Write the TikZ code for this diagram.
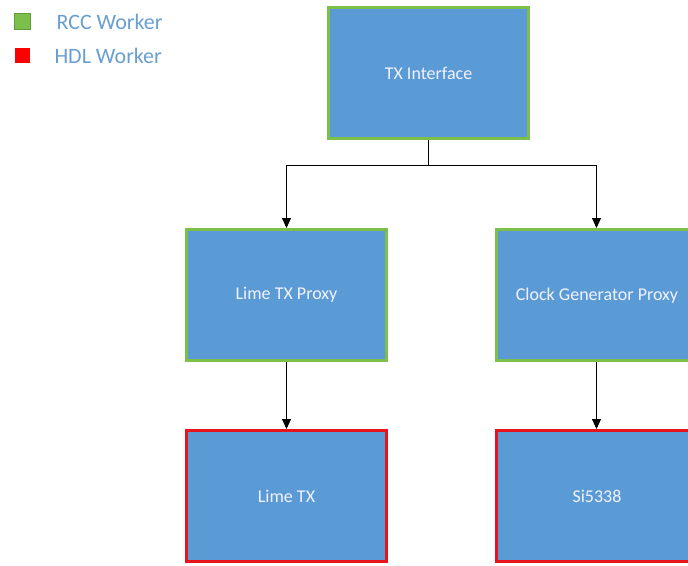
\documentclass[tikz,border=0pt]{standalone}
\usepackage{fontspec}
\setmainfont{Carlito}
\usetikzlibrary{arrows.meta,calc}
\definecolor{boxfill}{HTML}{5B9BD5}
\definecolor{rccgreen}{HTML}{7CC04B}
\definecolor{hdlred}{HTML}{E8141B}
\definecolor{legtext}{HTML}{6A9FD2}
\begin{document}
\begin{tikzpicture}[x=1pt,y=-1pt,
  worker/.style={draw,line width=3pt,fill=boxfill,minimum width=200pt,minimum height=131pt,
    inner sep=0pt,text=white!95!blue,font=\fontsize{18}{21}\selectfont,anchor=north west},
  rcc/.style={worker,draw=rccgreen},
  hdl/.style={worker,draw=hdlred},
  boxtxt/.style={text=white!95!blue,font=\fontsize{18}{21}\selectfont},
  conn/.style={black,line width=0.9pt,-{Triangle[length=10pt,width=9pt]}},
  legtxt/.style={text=legtext,font=\fontsize{22}{26}\selectfont,anchor=west}]
\useasboundingbox[clip] (0,0) rectangle (688,565);
\fill[white] (0,0) rectangle (688,565);
% legend
\node[minimum size=16pt,inner sep=0pt,fill=rccgreen,draw=rccgreen!80!black,line width=0.6pt] (lg) at (22.5,21.5) {};
\node[legtxt] (lgt) at (53,21.5) {RCC Worker};
\node[minimum size=15pt,inner sep=0pt,fill=red] (lr) at (22.5,55.5) {};
\node[legtxt] (lrt) at (51,55.5) {HDL Worker};
% boxes
\node[rcc] (tx) at (327,6) {TX Interface};
\node[rcc] (ltp) at (185,228) {Lime TX Proxy};
\node[rcc] (cgp) at (495,228) {};
\node[boxtxt] (cgpt) at (597,296) {Clock Generator Proxy};
\node[hdl] (ltx) at (185,429) {Lime TX};
\node[hdl] (si) at (495,429) {};
\node[boxtxt] (sit) at (597,496) {Si5338};
% connectors
\coordinate (j) at ($(tx.south)+(0,25)$);
\draw[conn] (tx.south) -- (j) -| (ltp.north);
\draw[conn] (j) -| (cgp.north);
\draw[conn] (ltp.south) -- (ltx.north);
\draw[conn] (cgp.south) -- (si.north);
\end{tikzpicture}
\end{document}
